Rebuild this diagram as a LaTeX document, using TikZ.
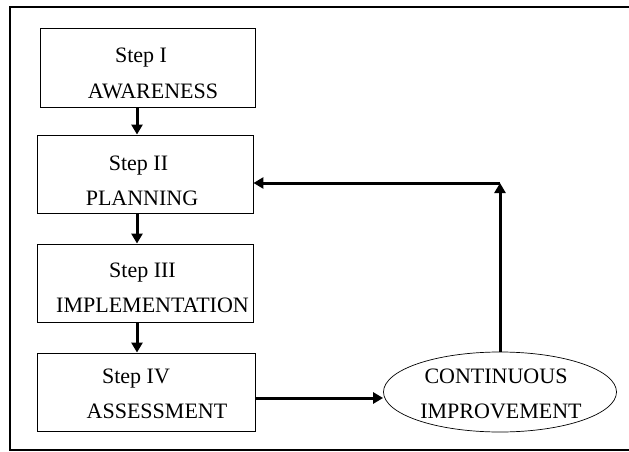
\documentclass[tikz,border=0pt]{standalone}
\usepackage{fontspec}
\setmainfont{Liberation Serif}
\usetikzlibrary{arrows.meta,shapes.geometric}
\begin{document}
\begin{tikzpicture}[x=1pt,y=-1pt,
  stepbox/.style={draw,line width=0.9pt,minimum width=#1,minimum height=78pt,inner sep=0pt},
  ellbox/.style={draw,ellipse,line width=0.7pt,minimum width=233pt,minimum height=80pt,inner sep=0pt},
  txt/.style={anchor=base,inner sep=0pt,font=\fontsize{22}{24}\selectfont},
  arr/.style={line width=3pt,-{Triangle[length=10pt,width=11pt]}},
  frame/.style={line width=1.8pt}]
\useasboundingbox (0,0) rectangle (629,452);
\draw[frame] (629,7) -- (10,7) -- (10,450) -- (629,450);
% boxes
\node[stepbox=215pt,minimum height=79pt] (b1) at (147.5,67.5) {};
\node[stepbox=216pt] (b2) at (145,174) {};
\node[stepbox=216pt] (b3) at (145,283) {};
\node[stepbox=218pt] (b4) at (146,392) {};
\node[ellbox] (ell) at (500,392) {};
% texts
\node[txt] (t1a) at (141,63) {Step I};
\node[txt] (t1b) at (153,98) {AWARENESS};
\node[txt] (t2a) at (138.5,170) {Step II};
\node[txt] (t2b) at (142,205) {PLANNING};
\node[txt] (t3a) at (142.5,277) {Step III};
\node[txt] (t3b) at (152.5,312) {IMPLEMENTATION};
\node[txt] (t4a) at (136,383) {Step IV};
\node[txt] (t4b) at (157,418) {ASSESSMENT};
\node[txt] (t5a) at (496,383) {CONTINUOUS};
\node[txt] (t5b) at (501,418) {IMPROVEMENT};
% connectors
\coordinate (ax) at (137,0);
\coordinate (ay) at (0,398);
\coordinate (corner) at (500,183);
\draw[arr] (b1.south -| ax) -- (b2.north -| ax);
\draw[arr] (b2.south -| ax) -- (b3.north -| ax);
\draw[arr] (b3.south -| ax) -- (b4.north -| ax);
\draw[arr] (b4.east |- ay) -- (ell.west |- ay);
\draw[arr] (ell.north) -- (corner);
\draw[arr] (corner) -- (b2.east |- corner);
\end{tikzpicture}
\end{document}
